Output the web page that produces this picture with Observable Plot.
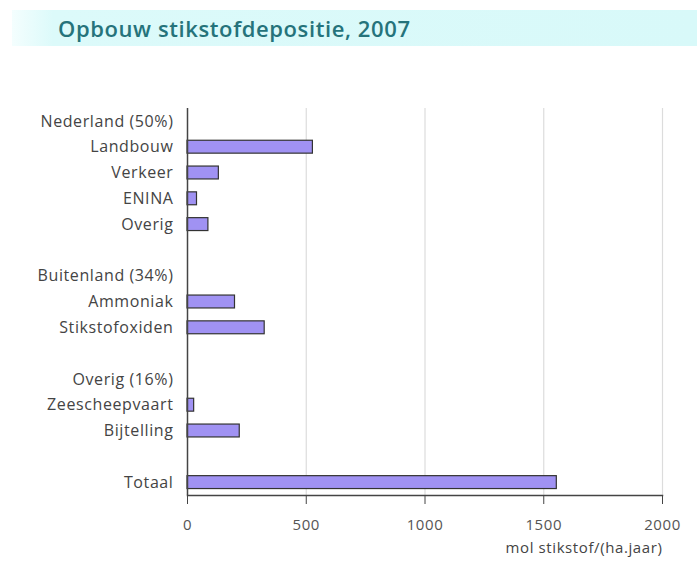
<!DOCTYPE html>
<html>
<head>
<meta charset="utf-8">
<script src="https://cdn.jsdelivr.net/npm/d3@7"></script>
<script src="https://cdn.jsdelivr.net/npm/@observablehq/plot@0.6"></script>
<style>
  html, body { margin: 0; padding: 0; background: #fff; }
  #title {
    position: relative;
    margin-top: 10px;
    margin-left: 12px;
    height: 36px;
    background: linear-gradient(to right, #f4fefe 0%, #dcfafa 6%, #d8f9f9 100%);
    font-family: "Open Sans", sans-serif;
    font-weight: 600;
    font-size: 22px;
    letter-spacing: 0.6px;
    color: #25737b;
    line-height: 36px;
    padding-left: 46px;
    box-sizing: border-box;
  }
  #chart { margin-top: 14px; }
</style>
</head>
<body>
<div id="title">Opbouw stikstofdepositie, 2007</div>
<div id="chart"></div>
<script>
const categories = [
  "Nederland (50%)", "Landbouw", "Verkeer", "ENINA", "Overig", " ",
  "Buitenland (34%)", "Ammoniak", "Stikstofoxiden", "  ",
  "Overig (16%)", "Zeescheepvaart", "Bijtelling", "   ", "Totaal"
];
const barCategories = ["Landbouw", "Verkeer", "ENINA", "Overig", "Ammoniak", "Stikstofoxiden", "Zeescheepvaart", "Bijtelling", "Totaal"];
const barValues = [528, 132, 40, 88, 200, 325, 28, 220, 1555];
const xTicks = [0, 500, 1000, 1500, 2000];
const gridTicks = [500, 1000, 1500, 2000];
const xLabel = "mol stikstof/(ha.jaar)";

const data = barCategories.map((c, i) => ({cat: c, value: barValues[i]}));

const chart = Plot.plot({
  width: 697,
  height: 505,
  marginLeft: 187,
  marginRight: 35,
  marginTop: 48,
  marginBottom: 70,
  style: {fontFamily: "Open Sans, sans-serif", fontSize: "16px", color: "#444", background: "#fff", letterSpacing: "0.6px"},
  x: {domain: [0, 2000], ticks: xTicks},
  y: {type: "band", domain: categories, paddingInner: 0.5, paddingOuter: 0.25, round: false},
  marks: [
    Plot.ruleX(gridTicks, {stroke: "#dcdcdc", strokeWidth: 1.2}),
    Plot.barX(data, {y: "cat", x: "value", fill: "#a092f3", stroke: "#333", strokeWidth: 1.2}),
    Plot.ruleX([0], {stroke: "#444", strokeWidth: 1.5}),
    Plot.frame({anchor: "bottom", stroke: "#444", strokeWidth: 1.5}),
    Plot.axisX({
      ticks: xTicks, tickSize: 9, tickPadding: 15, tickFormat: d => String(d),
      stroke: "#444", fill: "#555", fontSize: 15, label: null
    }),
    Plot.text([xLabel], {frameAnchor: "bottom-right", dy: 57, textAnchor: "end", fill: "#444", fontSize: 15}),
    Plot.axisY({tickSize: 0, tickPadding: 14, label: null, fill: "#444", fontSize: 16})
  ]
});
document.getElementById("chart").appendChild(chart);
</script>
</body>
</html>
